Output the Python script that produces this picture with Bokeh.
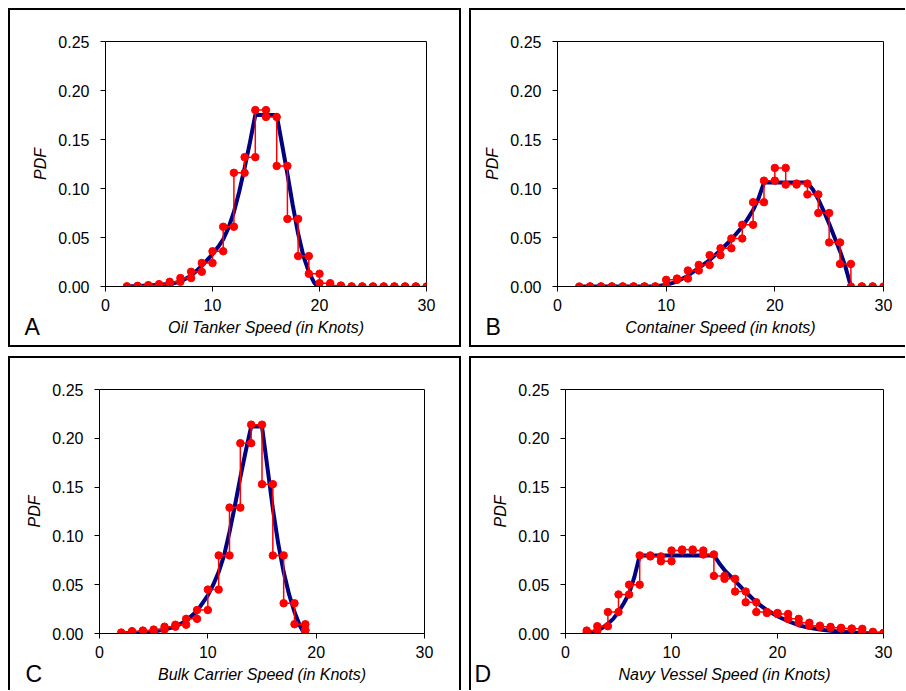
from bokeh.plotting import figure
from bokeh.layouts import row, column
from bokeh.models import Title, FixedTicker, NumeralTickFormatter, Range1d, Spacer
from bokeh.embed import file_html
from bokeh.resources import INLINE

FONT = "Liberation Sans"

# ---------------- data ----------------
x_ticks = [0, 10, 20, 30]
y_ticks = [0.0, 0.05, 0.10, 0.15, 0.20, 0.25]

# Panel A: oil tankers (histogram, 1-knot bins) and fitted PDF
a_edges = list(range(2, 31))
a_pdf = [0.0002, 0.0007, 0.0014, 0.0024, 0.0048, 0.0086, 0.015, 0.024, 0.036, 0.061,
         0.116, 0.132, 0.180, 0.173, 0.123, 0.069, 0.031, 0.013, 0.0034, 0.001,
         0, 0, 0, 0, 0, 0, 0, 0]
a_fit_x = [2, 3, 4, 5, 6, 7, 8, 9, 10, 10.5, 11, 11.5, 12, 12.5, 13, 13.5, 14,
           16, 16.5, 17, 17.5, 18, 18.5, 19, 19.5, 19.8]
a_fit_y = [0, 0.0005, 0.001, 0.0017, 0.0026, 0.005, 0.011, 0.021, 0.033, 0.040, 0.048,
           0.060, 0.076, 0.097, 0.121, 0.147, 0.175,
           0.175, 0.145, 0.115, 0.083, 0.054, 0.031, 0.015, 0.004, 0]

# Panel B: container ships
b_edges = list(range(2, 31))
b_pdf = [0, 0, 0, 0, 0, 0, 0, 0, 0.0068, 0.0081, 0.0163, 0.022, 0.032, 0.039, 0.049,
         0.063, 0.086, 0.108, 0.121, 0.104, 0.105, 0.094, 0.075, 0.045, 0.023, 0, 0, 0]
b_fit_x = [2, 9, 10, 11, 12, 13, 14, 15, 16, 17, 17.5, 18, 18.5, 19,
           23, 23.5, 24, 24.5, 25, 25.5, 26, 26.5, 27]
b_fit_y = [0, 0, 0.0017, 0.005, 0.011, 0.019, 0.027, 0.037, 0.048, 0.061, 0.069, 0.078,
           0.090, 0.106, 0.106, 0.099, 0.089, 0.077, 0.064, 0.050, 0.036, 0.020, 0]

# Panel C: bulk carriers
c_edges = list(range(2, 20)) + [19]
c_pdf = [0.001, 0.0024, 0.003, 0.004, 0.007, 0.009, 0.015, 0.024, 0.045, 0.080,
         0.129, 0.195, 0.214, 0.153, 0.080, 0.031, 0.0095, 0.0034]
c_fit_x = [2, 3, 4, 5, 6, 7, 8, 9, 10, 10.5, 11, 11.5, 12, 12.5, 13, 13.5, 14,
           15, 15.5, 16, 16.5, 17, 17.5, 18, 18.5, 18.9]
c_fit_y = [0, 0.0005, 0.001, 0.002, 0.004, 0.007, 0.013, 0.023, 0.039, 0.050, 0.063,
           0.080, 0.104, 0.131, 0.160, 0.187, 0.212,
           0.212, 0.170, 0.128, 0.092, 0.063, 0.040, 0.022, 0.008, 0]

# Panel D: navy vessels
d_edges = [2] + list(range(2, 31))
d_pdf = [0, 0.003, 0.0075, 0.022, 0.040, 0.050, 0.080, 0.079, 0.074, 0.085, 0.086,
         0.085, 0.081, 0.059, 0.056, 0.043, 0.032, 0.022, 0.021, 0.020, 0.015, 0.011,
         0.008, 0.0068, 0.0058, 0.005, 0.0048, 0.0017, 0.0007]
d_fit_x = [2, 2.5, 3, 3.5, 4, 4.5, 5, 5.5, 6, 6.5, 7, 14, 14.5, 15, 16, 17, 18, 19, 20,
           21, 22, 23, 24, 25, 26, 27, 28, 29, 30]
d_fit_y = [0, 0.001, 0.003, 0.006, 0.010, 0.015, 0.022, 0.031, 0.041, 0.058, 0.080,
           0.080, 0.072, 0.065, 0.054, 0.0425, 0.032, 0.024, 0.0177, 0.0126, 0.0085,
           0.0058, 0.004, 0.0027, 0.0017, 0.001, 0.0007, 0.0003, 0]


def step_path(edges, vals):
    xs, ys = [], []
    for i, v in enumerate(vals):
        xs.append(edges[i]); ys.append(v)
        if i + 1 < len(edges):
            xs.append(edges[i + 1]); ys.append(v)
    return xs, ys


def panel(xlabel, letter, letter_offset, edges, pdf, fx, fy, w, h, ml, mr, mt, mb, shadow):
    p = figure(width=w, height=h, x_range=Range1d(0, 30), y_range=Range1d(0, 0.25),
               output_backend="svg", toolbar_location=None,
               min_border_left=ml, min_border_right=mr,
               min_border_top=mt, min_border_bottom=mb)
    p.border_fill_alpha = 0
    p.background_fill_color = "white"
    p.outline_line_color = "black"
    p.outline_line_alpha = 1
    p.outline_line_width = 1
    p.grid.visible = False
    p.xaxis.ticker = FixedTicker(ticks=x_ticks)
    p.yaxis.ticker = FixedTicker(ticks=y_ticks)
    p.yaxis.formatter = NumeralTickFormatter(format="0.00")
    for ax in p.axis:
        ax.axis_line_color = "black"
        ax.axis_line_width = 1
        ax.major_tick_line_color = "black"
        ax.major_tick_out = 5
        ax.major_tick_in = 0
        ax.minor_tick_line_color = None
        ax.major_label_text_font = FONT
        ax.major_label_text_font_size = "16px"
        ax.major_label_text_color = "black"
        ax.axis_label_text_font = FONT
        ax.axis_label_text_font_size = "16px"
        ax.axis_label_text_font_style = "italic"
        ax.axis_label_text_color = "black"
    p.xaxis.axis_label = xlabel
    p.xaxis.major_label_standoff = 7
    p.xaxis.axis_label_standoff = 5
    p.yaxis.axis_label = "PDF"
    p.yaxis.major_label_standoff = 11
    p.yaxis.axis_label_standoff = 6

    p.line(fx, fy, line_color="#000080", line_width=4)
    xs, ys = step_path(edges, pdf)
    p.line(xs, ys, line_color="#ff0000", line_width=1.5)
    p.scatter(xs, ys, size=7.5, fill_color="#ff0000", line_color="#ff0000")

    # panel letter, placed in the bottom side panel next to the axis title
    p.add_layout(Title(text=letter, align="left", vertical_align="top",
                       offset=letter_offset, standoff=-50,
                       text_font=FONT, text_font_size="23px", text_font_style="normal",
                       text_color="black"), "below")
    p.styles = {"box-shadow": shadow}
    return p


FULL = "inset 2px 0 0 0 black, inset -2px 0 0 0 black, inset 0 2px 0 0 black, inset 0 -2px 0 0 black"
NO_RIGHT = "inset 2px 0 0 0 black, inset 0 2px 0 0 black, inset 0 -2px 0 0 black"
LEFT_TOP_RIGHT = "inset 2px 0 0 0 black, inset -2px 0 0 0 black, inset 0 2px 0 0 black"
LEFT_TOP = "inset 2px 0 0 0 black, inset 0 2px 0 0 black"

pA = panel("Oil Tanker Speed (in Knots)", "A", -81, a_edges, a_pdf, a_fit_x, a_fit_y,
           453, 339, 97, 35, 33, 61, FULL)
pB = panel("Container Speed (in knots)", "B", -72, b_edges, b_pdf, b_fit_x, b_fit_y,
           436, 339, 88, 22, 33, 61, NO_RIGHT)
pC = panel("Bulk Carrier Speed (in Knots)", "C", -74, c_edges, c_pdf, c_fit_x, c_fit_y,
           453, 334, 91, 37, 33, 57, LEFT_TOP_RIGHT)
pD = panel("Navy Vessel Speed (in Knots)", "D", -91, d_edges, d_pdf, d_fit_x, d_fit_y,
           436, 334, 96, 22, 33, 57, LEFT_TOP)

layout = column(Spacer(height=8),
                row(Spacer(width=8), pA, Spacer(width=8), pB, spacing=0),
                Spacer(height=9),
                row(Spacer(width=8), pC, Spacer(width=8), pD, spacing=0),
                spacing=0)

open("out.html", "w").write(file_html(layout, INLINE))
